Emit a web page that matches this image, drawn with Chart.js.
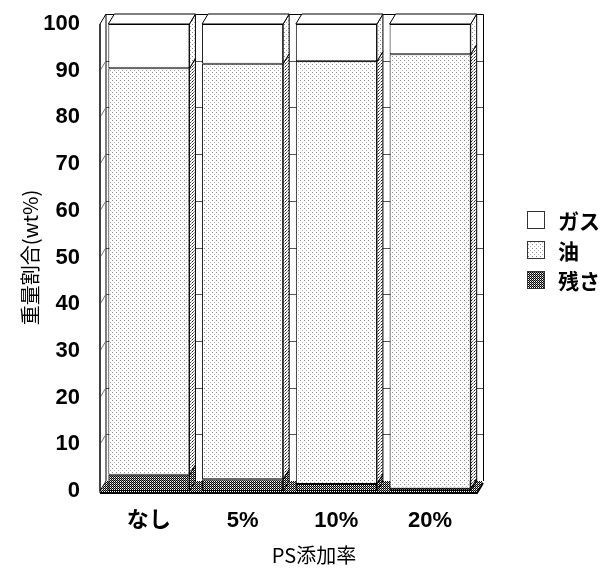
<!DOCTYPE html>
<html>
<head>
<meta charset="utf-8">
<script src="https://cdn.jsdelivr.net/npm/chart.js@4/dist/chart.umd.min.js"></script>
<style>
  html, body { margin: 0; padding: 0; background: #fff; }
  #wrap { width: 607px; height: 571px; }
</style>
</head>
<body>
<div id="wrap"><canvas id="chart" width="607" height="571"></canvas></div>
<script>
// PS添加率ごとの生成物の重量割合 (wt%)
const categories = ['なし', '5%', '10%', '20%'];
const residue = [3.5, 2.5, 1.5, 0.5];   // 残さ
const oil = [87, 89, 90.5, 93];          // 油
const gas = [9.5, 8.5, 8, 6.5];          // ガス
const seriesNames = ['残さ', '油', 'ガス'];
const yTicks = [0, 10, 20, 30, 40, 50, 60, 70, 80, 90, 100];

const DX = 6, DY = 10;   // 奥行き方向のずらし量
const latinFont = "'Liberation Sans', Arial, 'Noto Sans CJK JP', sans-serif";
const jpFont = "'Noto Sans CJK JP', sans-serif";

const canvas = document.getElementById('chart');
const ctx = canvas.getContext('2d');

function makePattern(w, h, dots) {
    const c = document.createElement('canvas');
    c.width = w; c.height = h;
    const g = c.getContext('2d');
    g.fillStyle = '#fff';
    g.fillRect(0, 0, w, h);
    dots.forEach(([x, y, col]) => { g.fillStyle = col; g.fillRect(x, y, 1, 1); });
    return ctx.createPattern(c, 'repeat');
}

const oilFill = makePattern(4, 4, [[0, 0, '#8a8a8a'], [2, 2, '#b0b0b0']]);
const oilSide = makePattern(3, 3, [[0, 0, '#222'], [1, 2, '#666'], [2, 1, '#999']]);
const residueFill = makePattern(2, 2, [[0, 0, '#000'], [1, 1, '#000'], [1, 0, '#888']]);
const fills = [residueFill, oilFill, '#ffffff'];
const sideFills = [residueFill, oilSide, oilFill];

// 壁・床・目盛線 (背面) と棒の側面・上面
const backWall = {
    id: 'backWall',
    beforeDatasetsDraw(chart) {
        const { ctx, chartArea: a, scales: { y } } = chart;
        const xL = a.left - 2, xR = a.right;
        const y0 = y.getPixelForValue(0), y100 = y.getPixelForValue(100);
        ctx.save();
        ctx.lineWidth = 1;
        ctx.strokeStyle = '#555';
        // 背面の目盛線
        yTicks.slice(1, -1).forEach(v => {
            const py = Math.round(y.getPixelForValue(v) - DY) + 0.5;
            ctx.beginPath();
            ctx.moveTo(xL + DX, py);
            ctx.lineTo(xR + DX, py);
            ctx.stroke();
        });
        ctx.strokeStyle = '#000';
        // 左の側壁
        ctx.fillStyle = '#fff';
        ctx.beginPath();
        ctx.moveTo(xL, y0);
        ctx.lineTo(xL, y100);
        ctx.lineTo(xL + DX, y100 - DY);
        ctx.lineTo(xL + DX, y0 - DY);
        ctx.closePath();
        ctx.fill();
        ctx.stroke();
        ctx.strokeStyle = '#777';
        yTicks.slice(1, -1).forEach(v => {
            const py = y.getPixelForValue(v);
            ctx.beginPath();
            ctx.moveTo(xL, py);
            ctx.lineTo(xL + DX, py - DY);
            ctx.stroke();
        });
        // 背面の枠
        ctx.strokeStyle = '#000';
        ctx.beginPath();
        ctx.moveTo(xL + DX, y100 - DY + 0.5);
        ctx.lineTo(xR + DX + 0.5, y100 - DY + 0.5);
        ctx.lineTo(xR + DX + 0.5, y0 - DY);
        ctx.stroke();
        // 床
        ctx.fillStyle = residueFill;
        ctx.beginPath();
        ctx.moveTo(xL, y0 + 2);
        ctx.lineTo(xL + DX, y0 - DY);
        ctx.lineTo(xR + DX, y0 - DY);
        ctx.lineTo(xR, y0 + 2);
        ctx.closePath();
        ctx.fill();
        ctx.restore();
    },
    afterDatasetsDraw(chart) {
        const { ctx, chartArea: a, scales: { y } } = chart;
        const top = chart.data.datasets.length - 1;
        ctx.save();
        ctx.lineWidth = 1;
        ctx.strokeStyle = '#000';
        chart.data.datasets.forEach((ds, di) => {
            chart.getDatasetMeta(di).data.forEach(bar => {
                const { x, y: by, base, width } = bar.getProps(['x', 'y', 'base', 'width'], true);
                const l = x - width / 2, r = x + width / 2;
                // 右側面
                ctx.fillStyle = sideFills[di];
                ctx.beginPath();
                ctx.moveTo(r, by);
                ctx.lineTo(r + DX, by - DY);
                ctx.lineTo(r + DX, base - DY);
                ctx.lineTo(r, base);
                ctx.closePath();
                ctx.fill();
                ctx.stroke();
                // 上面
                if (di === top) {
                    ctx.fillStyle = '#fff';
                    ctx.beginPath();
                    ctx.moveTo(l, by);
                    ctx.lineTo(l + DX, by - DY);
                    ctx.lineTo(r + DX, by - DY);
                    ctx.lineTo(r, by);
                    ctx.closePath();
                    ctx.fill();
                    ctx.stroke();
                }
            });
        });
        // 前面の底辺と左端
        const y0 = y.getPixelForValue(0);
        ctx.lineWidth = 2;
        ctx.beginPath();
        ctx.moveTo(a.left - 2, y0 + 2);
        ctx.lineTo(a.right, y0 + 2);
        ctx.lineTo(a.right + DX, y0 + 2 - DY);
        ctx.stroke();
        ctx.lineWidth = 1;
        ctx.beginPath();
        ctx.moveTo(a.left - 2, y0 + 2);
        ctx.lineTo(a.left - 2, y.getPixelForValue(100));
        ctx.stroke();
        ctx.restore();
    },
    afterDraw(chart) {
        const { ctx } = chart;
        ctx.save();
        // 凡例 (上から ガス・油・残さ)
        [2, 1, 0].forEach((di, i) => {
            const cy = 220 + i * 30;
            ctx.fillStyle = fills[di];
            ctx.fillRect(527, cy - 9, 18, 18);
            ctx.strokeStyle = '#333';
            ctx.lineWidth = 1;
            ctx.strokeRect(527.5, cy - 8.5, 17, 17);
            ctx.fillStyle = '#000';
            ctx.font = 'bold 21px ' + jpFont;
            ctx.textBaseline = 'middle';
            ctx.textAlign = 'left';
            ctx.fillText(chart.data.datasets[di].label, 558, cy + 1);
        });
        // 横軸タイトル
        ctx.font = '20px ' + jpFont;
        ctx.textAlign = 'center';
        ctx.textBaseline = 'middle';
        ctx.fillText('PS添加率', 314, 555);
        ctx.restore();
    }
};

const values = [residue, oil, gas];

new Chart(canvas, {
    type: 'bar',
    data: {
        labels: categories,
        datasets: seriesNames.map((name, i) => ({
            label: name,
            data: values[i],
            backgroundColor: fills[i],
            borderColor: '#000',
            borderWidth: 1,
            borderSkipped: false,
            barPercentage: 0.865,
            categoryPercentage: 1
        }))
    },
    options: {
        responsive: false,
        animation: false,
        devicePixelRatio: 1,
        layout: { padding: { top: 24, right: 130, left: 0, bottom: 0 } },
        plugins: { legend: { display: false }, tooltip: { enabled: false } },
        scales: {
            x: {
                stacked: true,
                grid: { display: false },
                border: { display: false },
                ticks: { color: '#000', padding: 9, font: { family: latinFont, size: 22, weight: 'bold' } },
                afterFit(scale) {
                    scale.height = 80;
                    scale.paddingLeft = 0;
                    scale.paddingRight = 0;
                }
            },
            y: {
                stacked: true,
                min: 0,
                max: 100,
                grid: { display: false },
                border: { display: false },
                ticks: {
                    stepSize: 10,
                    color: '#000',
                    padding: 14,
                    font: { family: latinFont, size: 22, weight: 'bold' }
                },
                title: {
                    display: true,
                    text: '重量割合(wt%)',
                    color: '#000',
                    font: { family: jpFont, size: 20 },
                    padding: { top: 18, bottom: 0 }
                },
                afterFit(scale) {
                    scale.width = 102;
                    scale.paddingTop = 0;
                    scale.paddingBottom = 0;
                }
            }
        }
    },
    plugins: [backWall]
});
</script>
</body>
</html>
